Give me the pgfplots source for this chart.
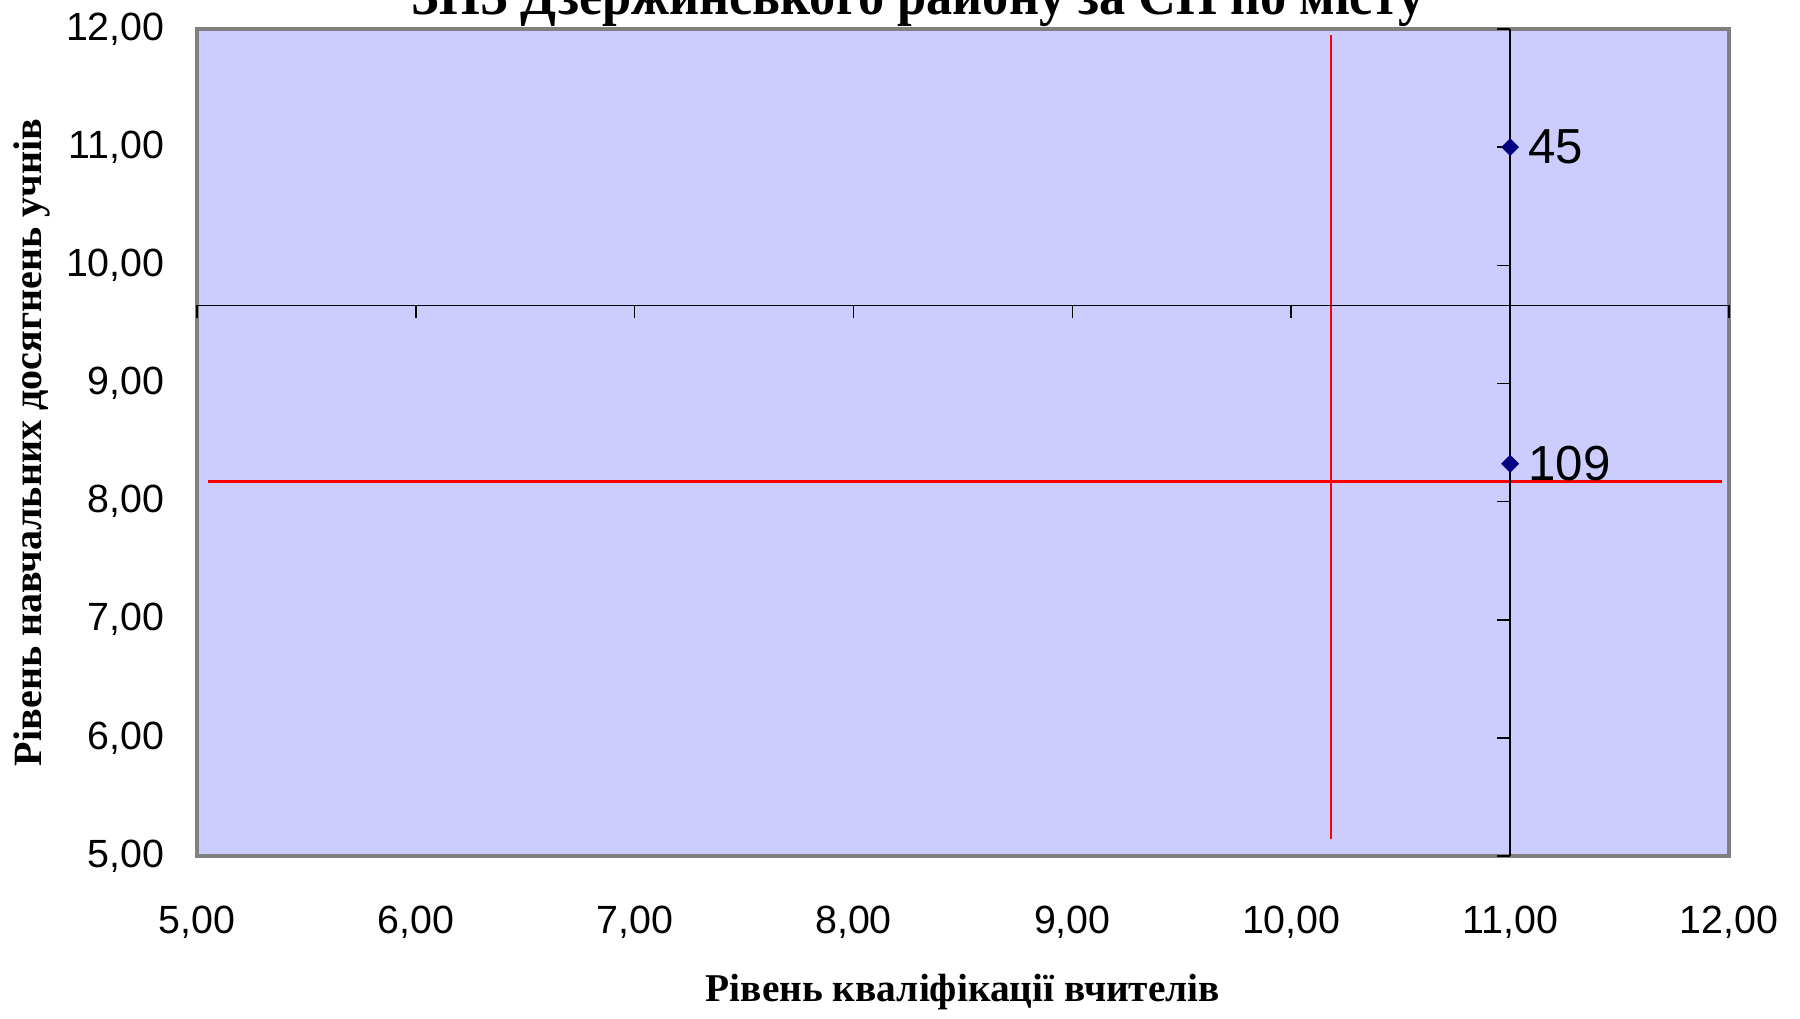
\documentclass[border=0pt]{standalone}
\usepackage{fontspec}
\setmainfont{Liberation Sans}
\newfontfamily\tnr{Liberation Serif}
\newfontfamily\tnrc[FakeStretch=0.93]{Liberation Serif}
\usepackage{pgfplots}
\pgfplotsset{compat=1.18}
\definecolor{plotbg}{HTML}{CCCCFF}
\definecolor{navypt}{HTML}{000080}
\begin{document}
\begin{tikzpicture}
\useasboundingbox (0,0) rectangle (18cm,10.18cm);
\begin{axis}[
  at={(1.97cm,1.62cm)}, anchor=south west,
  scale only axis, width=15.32cm, height=8.27cm,
  xmin=5, xmax=12, ymin=5, ymax=12,
  xtick={5,...,12}, ytick={5,...,12},
  major tick length=0pt,
  axis background/.style={fill=plotbg},
  axis line style={draw=gray, line width=0.9pt},
  /pgf/number format/assume math mode=true,
  /pgf/number format/.cd, fixed, fixed zerofill, precision=2, use comma,
  /pgfplots/.cd,
  ticklabel style={font=\fontsize{11.2}{13}\selectfont},
  xticklabel style={yshift=-0.38cm},
  yticklabel style={xshift=-0.2cm},
  clip=false,
  xlabel={\tnr\bfseries Рівень кваліфікації вчителів},
  xlabel style={at={(axis description cs:0.5,-0.165)}, anchor=center, font=\fontsize{11.2}{13}\selectfont},
  ylabel={\tnr\bfseries Рівень навчальних досягнень учнів},
  ylabel style={at={(axis description cs:-0.108,0.5)}, anchor=center, font=\fontsize{11.4}{13}\selectfont},
]
% average lines
\addplot[red, line width=0.6pt] coordinates {(10.18,5.14) (10.18,11.95)};
\addplot[red, line width=0.6pt] coordinates {(5.05,8.17) (11.97,8.17)};
% crossing axes
\draw[black, line width=0.45pt] (axis cs:5,9.66) -- (axis cs:12,9.66);
\draw[black, line width=0.45pt] (axis cs:11,5) -- (axis cs:11,12);
\pgfplotsinvokeforeach{5,...,12}{
  \draw[black, line width=0.45pt] (axis cs:#1,9.66) -- ([yshift=-0.13cm]axis cs:#1,9.66);
  \draw[black, line width=0.45pt] (axis cs:11,#1) -- ([xshift=-0.13cm]axis cs:11,#1);
}
\addplot[only marks, mark=square*, mark size=1.6pt, mark options={rotate=45, fill=navypt, draw=navypt},
  nodes near coords, point meta=explicit symbolic,
  every node near coord/.style={anchor=west, xshift=0.06cm, font=\fontsize{14}{16}\selectfont, text=black}]
  coordinates {(11,11)[45] (11,8.32)[109]};
\end{axis}
\node[anchor=base, font=\fontsize{16}{18}\selectfont\tnrc\bfseries] at (9.18cm,10.03cm)
  {ЗНЗ Дзержинського району за СН по місту};
\end{tikzpicture}
\end{document}
